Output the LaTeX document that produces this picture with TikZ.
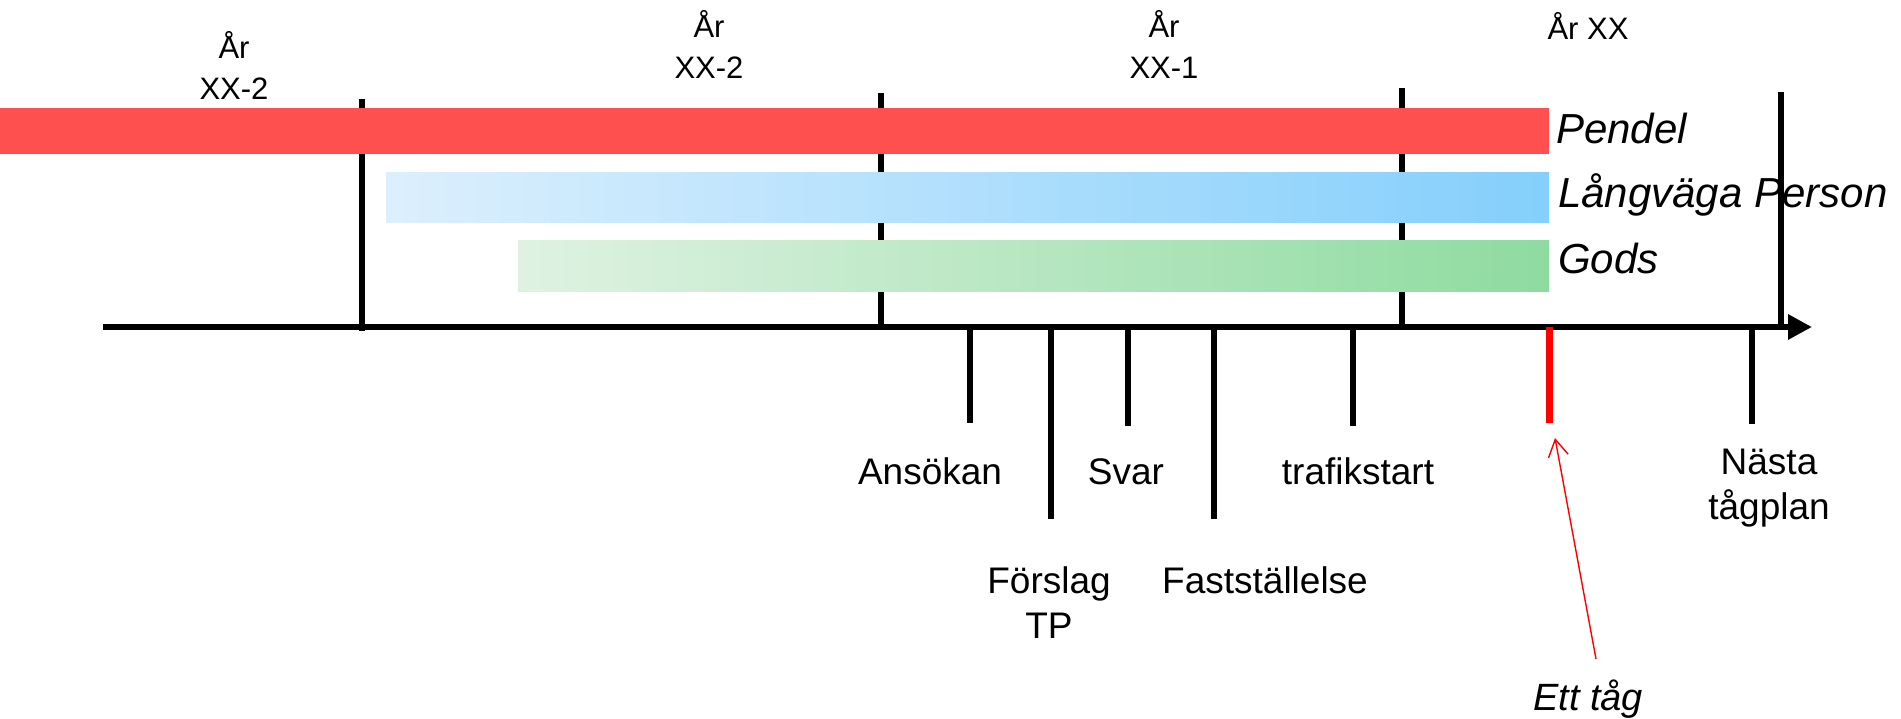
\documentclass[tikz,border=0pt]{standalone}
\usepackage{fontspec}
\setmainfont{Liberation Sans}
\usetikzlibrary{arrows.meta}
\definecolor{pendelred}{HTML}{FF5050}
\definecolor{blueL}{HTML}{DCEFFD}
\definecolor{blueR}{HTML}{84CFFC}
\definecolor{greenL}{HTML}{DFF2E2}
\definecolor{greenR}{HTML}{8EDBA0}
\definecolor{arrred}{HTML}{FF0000}
\tikzset{
  tickline/.style={line width=6.5pt, black},
  yearlbl/.style={font=\fontsize{31}{41}\selectfont, align=center, anchor=base, inner sep=0pt},
  evlbl/.style={font=\fontsize{37}{45}\selectfont, align=center, anchor=base, inner sep=0pt},
  barlbl/.style={font=\fontsize{42}{50}\selectfont\itshape, anchor=base west, inner sep=0pt},
}
\begin{document}
\begin{tikzpicture}[x=1pt,y=-1pt]
\useasboundingbox (0,0) rectangle (1901,718);
% year ticks (behind bars)
\coordinate (y1t) at (362,99);  \coordinate (y1b) at (362,331);
\coordinate (y2t) at (881,93);  \coordinate (y2b) at (881,327);
\coordinate (y3t) at (1402,88); \coordinate (y3b) at (1402,327);
\coordinate (y4t) at (1781,92); \coordinate (y4b) at (1781,327);
\draw[tickline] (y1t) -- (y1b);
\draw[tickline] (y2t) -- (y2b);
\draw[tickline] (y3t) -- (y3b);
% bars
\fill[pendelred] (0,108) rectangle (1549,154);
\shade[left color=blueL, right color=blueR] (386,172) rectangle (1549,222);
\shade[left color=greenL, right color=greenR] (518,240) rectangle (1549,291);
% bar labels
\node[barlbl] (pendel) at (1556,143) {Pendel};
\node[barlbl] (lang) at (1558,207) {Långväga Person};
\node[barlbl] (gods) at (1558,273) {Gods};
\draw[tickline] (y4t) -- (y4b);
% year labels (base = last line)
\node[yearlbl] (ar1) at (234,99) {År\\XX-2};
\node[yearlbl] (ar2) at (709,78) {År\\XX-2};
\node[yearlbl] (ar3) at (1164,78) {År\\XX-1};
\node[yearlbl] (ar4) at (1588,39) {År XX};
% axis
\coordinate (axs) at (103,327);
\coordinate (axe) at (1812,327);
\draw[line width=6.5pt, -{Triangle[length=24pt,width=24pt]}] (axs) -- (axe);
% event ticks
\coordinate (t1) at (970,327);  \coordinate (b1) at (970,423);
\coordinate (t2) at (1051,327); \coordinate (b2) at (1051,519);
\coordinate (t3) at (1128,327); \coordinate (b3) at (1128,426);
\coordinate (t4) at (1214,327); \coordinate (b4) at (1214,519);
\coordinate (t5) at (1353,327); \coordinate (b5) at (1353,426);
\coordinate (t6) at (1549,327); \coordinate (b6) at (1549,423);
\coordinate (t7) at (1752,327); \coordinate (b7) at (1752,424);
\draw[tickline] (t1) -- (b1);
\draw[tickline] (t2) -- (b2);
\draw[tickline] (t3) -- (b3);
\draw[tickline] (t4) -- (b4);
\draw[tickline] (t5) -- (b5);
\draw[line width=7pt, arrred] (t6) -- (b6);
\draw[tickline] (t7) -- (b7);
% event labels
\node[evlbl] (ansokan) at (930,484) {Ansökan};
\node[evlbl] (svar) at (1126,484) {Svar};
\node[evlbl] (trafik) at (1358,484) {trafikstart};
\node[evlbl] (forslag) at (1049,638) {Förslag\\TP};
\node[evlbl] (fast) at (1265,593) {Fastställelse};
\node[evlbl] (nasta) at (1769,519) {Nästa\\tågplan};
\node[evlbl, font=\fontsize{38}{45}\selectfont\itshape] (ett) at (1588,710) {Ett tåg};
% red pointer
\coordinate (ps) at (1596,659);
\coordinate (pe) at (1555,438);
\draw[arrred, line width=1.4pt, -{Straight Barb[length=17pt,width=20pt]}] (ps) -- (pe);
\end{tikzpicture}
\end{document}
